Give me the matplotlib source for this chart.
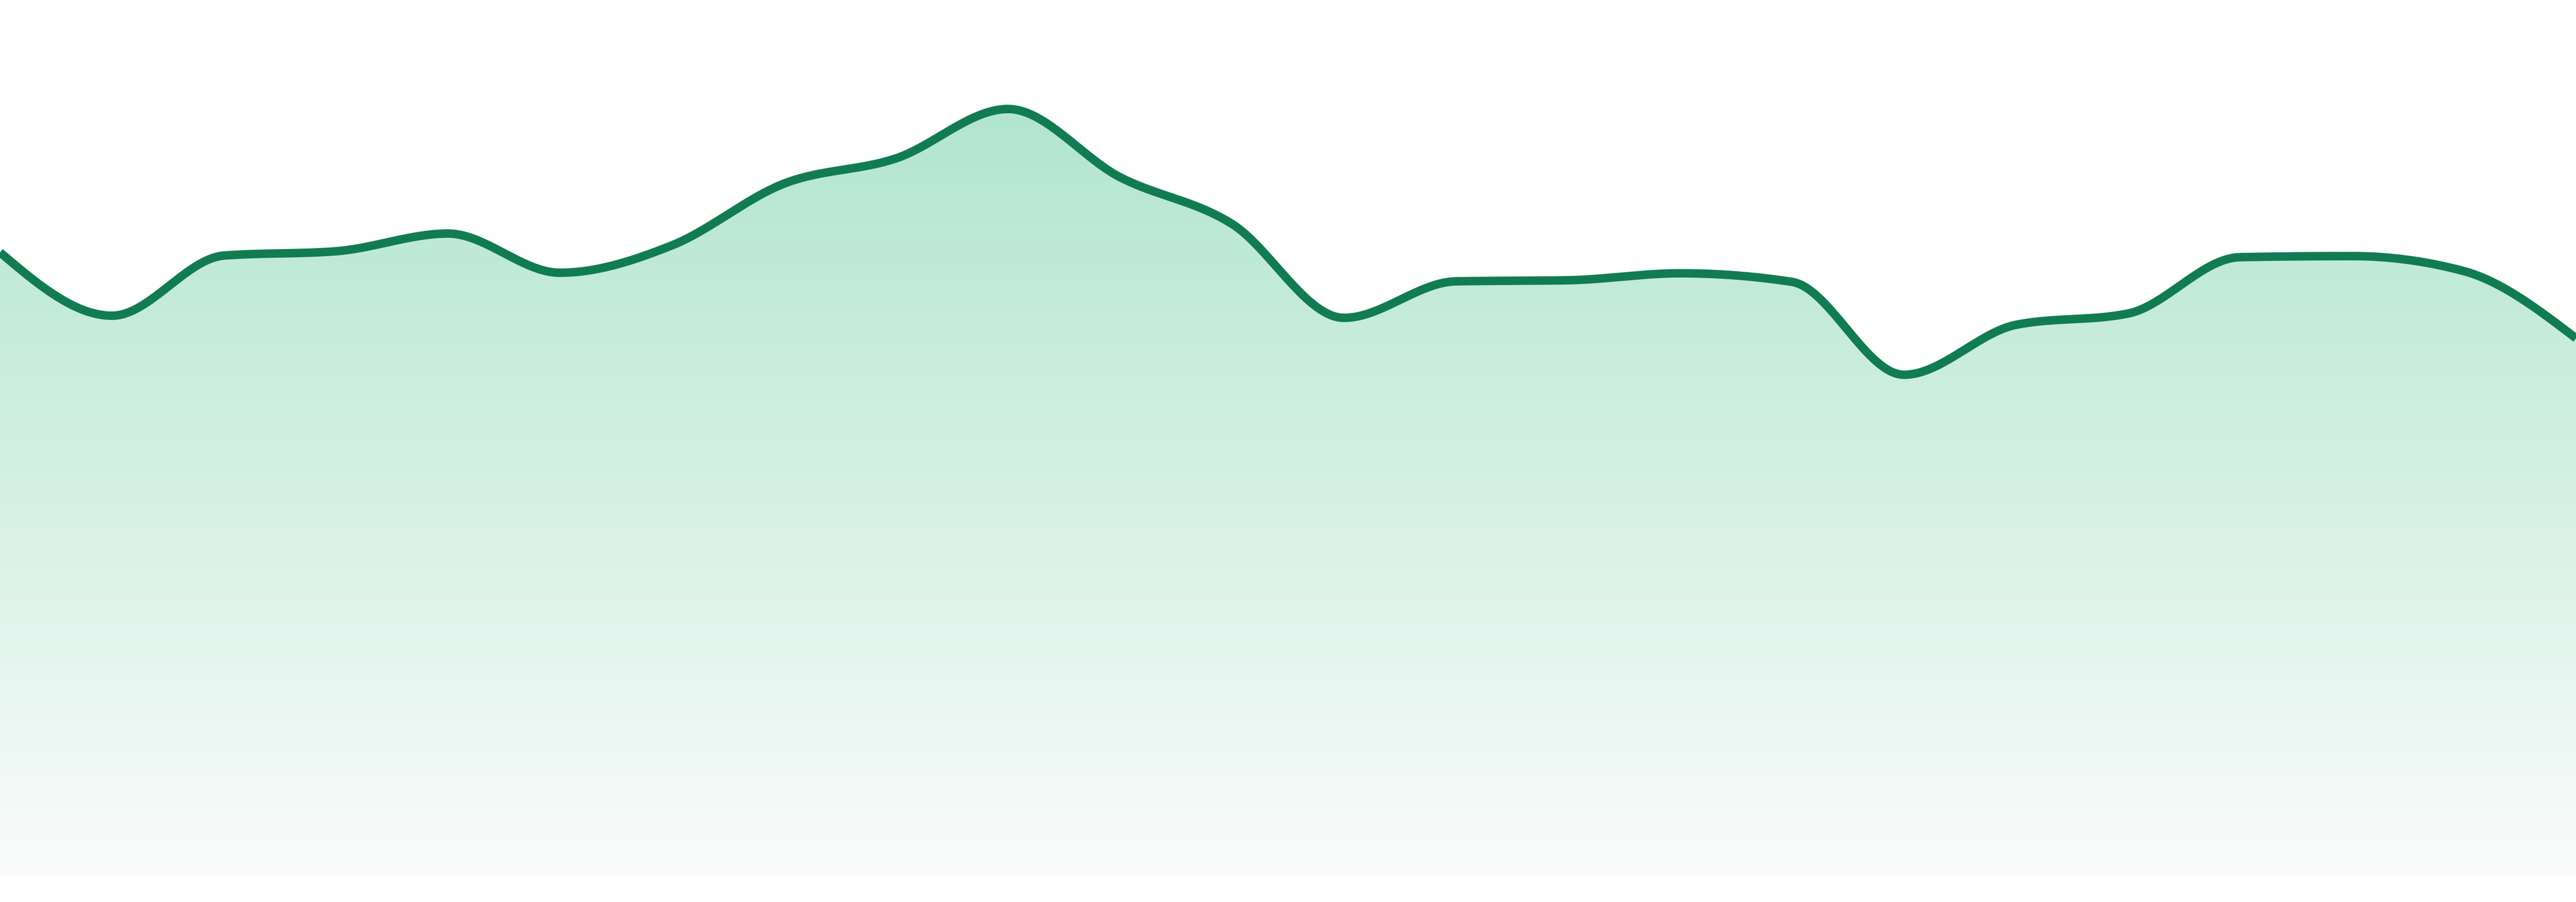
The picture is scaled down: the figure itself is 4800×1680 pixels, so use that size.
import numpy as np
import matplotlib
matplotlib.use("Agg")
import matplotlib.pyplot as plt
from matplotlib.patches import Polygon

# series values, one per step (24 evenly spaced points)
steps = list(range(24))
values = [116.2, 104.4, 115.6, 116.4, 119.7, 112.4, 117.5, 129.0, 133.7, 142.9,
          130.2, 121.5, 104.0, 110.8, 111.0, 112.3, 110.7, 93.4, 102.7, 104.8,
          115.3, 115.5, 112.7, 100.2]

LINE_COLOR = "#117c52"
TOP_RGB = (167, 226, 201)
BOTTOM_RGB = (250, 252, 251)


def monotone_x(x, y, n=40):
    # same tangents as d3.curveMonotoneX
    x = np.asarray(x, float)
    y = np.asarray(y, float)
    h = np.diff(x)
    s = np.diff(y) / h
    t = np.zeros_like(y)
    for i in range(1, len(y) - 1):
        p = (s[i - 1] * h[i] + s[i] * h[i - 1]) / (h[i - 1] + h[i])
        t[i] = (np.sign(s[i - 1]) + np.sign(s[i])) * min(abs(s[i - 1]), abs(s[i]), 0.5 * abs(p))
    t[0] = (3 * s[0] - t[1]) / 2
    t[-1] = (3 * s[-1] - t[-2]) / 2

    xs, ys = [], []
    u = np.linspace(0, 1, n)
    for i in range(len(x) - 1):
        dx = h[i] / 3
        p0 = (x[i], y[i])
        p1 = (x[i] + dx, y[i] + dx * t[i])
        p2 = (x[i + 1] - dx, y[i + 1] - dx * t[i + 1])
        p3 = (x[i + 1], y[i + 1])
        b0 = (1 - u) ** 3
        b1 = 3 * (1 - u) ** 2 * u
        b2 = 3 * (1 - u) * u ** 2
        b3 = u ** 3
        xs.append(b0 * p0[0] + b1 * p1[0] + b2 * p2[0] + b3 * p3[0])
        ys.append(b0 * p0[1] + b1 * p1[1] + b2 * p2[1] + b3 * p3[1])
    return np.concatenate(xs), np.concatenate(ys)


fig = plt.figure(figsize=(16, 5.6), dpi=300)
ax = fig.add_axes([0, 48 / 1680, 1, 1632 / 1680])
ymax = 163.2
ax.set_xlim(steps[0], steps[-1])
ax.set_ylim(0, ymax)
ax.axis("off")

sx, sy = monotone_x(steps, values)

# vertical gradient under the curve
rows = 400
frac = np.linspace(0, 1, rows)[:, None]
top = np.array(TOP_RGB) / 255
bottom = np.array(BOTTOM_RGB) / 255
grad = (top * (1 - frac) + bottom * frac)[:, None, :]
img = ax.imshow(grad, extent=(steps[0], steps[-1], 0, ymax), aspect="auto",
                origin="upper", interpolation="bilinear", zorder=1)
poly = Polygon(np.column_stack([np.r_[sx, sx[-1], sx[0]], np.r_[sy, 0, 0]]),
               closed=True, facecolor="none", edgecolor="none")
ax.add_patch(poly)
img.set_clip_path(poly)

ax.plot(sx, sy, color=LINE_COLOR, linewidth=3.8, solid_capstyle="butt", zorder=2)

fig.savefig("out.png", dpi=300, facecolor="white")
plt.close(fig)
